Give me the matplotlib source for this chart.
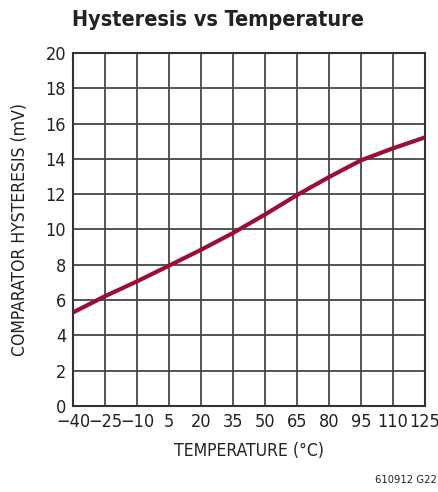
import numpy as np
import matplotlib.pyplot as plt

# Hysteresis vs temperature
temp_c = [-40, -25, -10, 5, 20, 35, 50, 65, 80, 95, 110, 125]
hyst_mv = [5.3, 6.22, 7.06, 7.95, 8.85, 9.8, 10.85, 11.95, 12.97, 13.92, 14.6, 15.22]

x_ticks = list(range(-40, 126, 15))
x_labels = ["\u221240", "\u221225", "\u221210", "5", "20", "35", "50", "65", "80", "95", "110", "125"]
y_ticks = list(range(0, 21, 2))

plt.rcParams["font.family"] = ["DejaVu Sans"]
plt.rcParams["font.stretch"] = "condensed"

W, H = 439, 492
fig = plt.figure(figsize=(W / 100, H / 100), dpi=100)
ax = fig.add_axes([73 / W, 1 - 406 / H, 352 / W, 353 / H])

ax.plot(temp_c, hyst_mv, color="#9a0f35", linewidth=3.0, solid_capstyle="butt", zorder=3)

ax.set_xlim(-40, 125)
ax.set_ylim(0, 20)
ax.set_xticks(x_ticks)
ax.set_xticklabels(x_labels)
ax.set_yticks(y_ticks)
ax.grid(True, color="#474747", linewidth=1.3)
for s in ax.spines.values():
    s.set_color("#333333")
    s.set_linewidth(1.5)
ax.tick_params(length=0, labelsize=13, pad=5, colors="#222222")

ax.set_xlabel("TEMPERATURE (\u00b0C)", fontsize=12.6, color="#222222", labelpad=8)
ax.set_ylabel("COMPARATOR HYSTERESIS (mV)", fontsize=12.6, color="#222222", labelpad=12)

fig.text(72 / W, 1 - 20 / H, "Hysteresis vs Temperature", fontsize=15.5, fontweight="bold",
         color="#222222", ha="left", va="center")
fig.text(437 / W, 1 - 480 / H, "610912 G22", fontsize=8, color="#222222", ha="right", va="center")

fig.savefig("out.png", dpi=100)
